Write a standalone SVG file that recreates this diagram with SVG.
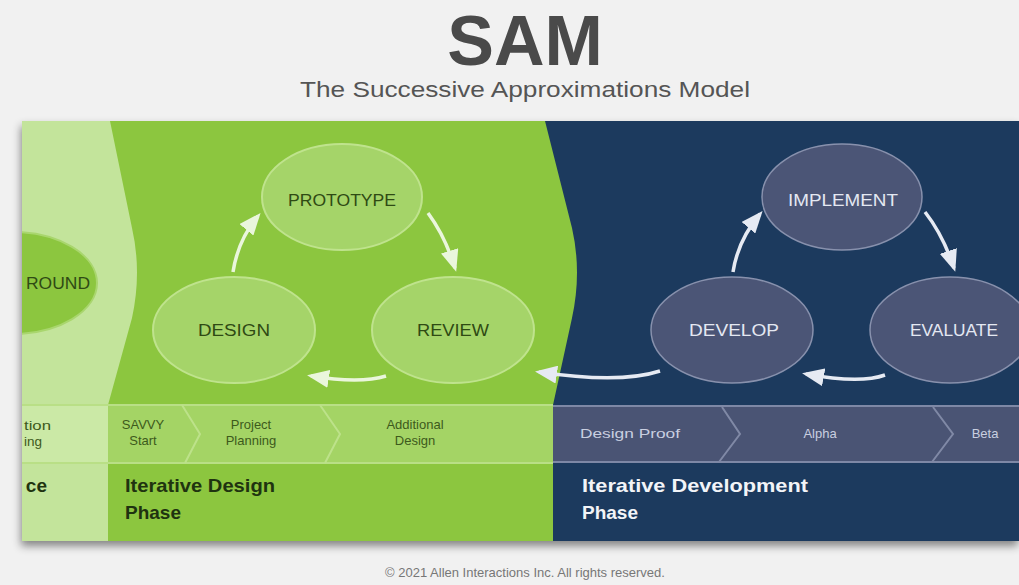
<svg xmlns="http://www.w3.org/2000/svg" width="1019" height="585" viewBox="0 0 1019 585">
  <defs>
    <style>
      .title{font-family:"Liberation Sans",Arial,sans-serif;font-weight:bold;fill:#4a4a4a}
      .sub{font-family:"Liberation Sans",Arial,sans-serif;fill:#555}
      .gnode{fill:#a5d469;stroke:#bfe38d;stroke-width:2}
      .nnode{fill:#4b5576;stroke:#8891ad;stroke-width:1.5}
      .gtxt{font-family:"Liberation Sans",Arial,sans-serif;font-size:16px;fill:#2f4a14;text-anchor:middle}
      .ntxt{font-family:"Liberation Sans",Arial,sans-serif;font-size:16px;fill:#e4e8f2;text-anchor:middle}
      .step{font-family:"Liberation Sans",Arial,sans-serif;font-size:13px;fill:#3d5a1c;text-anchor:middle}
      .nstep{font-family:"Liberation Sans",Arial,sans-serif;font-size:13px;fill:#c9cfe0}
      .phase{font-family:"Liberation Sans",Arial,sans-serif;font-size:19px;font-weight:bold}
      .garrow{fill:none;stroke:#eaf6dc;stroke-width:3.5}
      .narrow{fill:none;stroke:#e6eaf3;stroke-width:3.5}
      .chev{fill:none;stroke:#bde28a;stroke-width:2}
      .nchev{fill:none;stroke:#8089a6;stroke-width:2}
      .copy{font-family:"Liberation Sans",Arial,sans-serif;font-size:13px;fill:#777;text-anchor:middle}
    </style>
    <marker id="gh" markerUnits="userSpaceOnUse" markerWidth="22" markerHeight="18" refX="18" refY="9" orient="auto">
      <path d="M0,0 L22,9 L0,18 Z" fill="#eaf6dc"/>
    </marker>
    <marker id="nh" markerUnits="userSpaceOnUse" markerWidth="22" markerHeight="18" refX="18" refY="9" orient="auto">
      <path d="M0,0 L22,9 L0,18 Z" fill="#e6eaf3"/>
    </marker>
    <clipPath id="panel">
      <rect x="22" y="121" width="997" height="420"/>
    </clipPath>
    <filter id="sh" x="-5%" y="-5%" width="110%" height="115%">
      <feDropShadow dx="-1" dy="5" stdDeviation="4" flood-color="#000" flood-opacity="0.45"/>
    </filter>
  </defs>

  <rect width="1019" height="585" fill="#f1f1f1"/>

  <text class="title" x="525" y="65" font-size="70" text-anchor="middle">SAM</text>
  <text class="sub" x="300" y="97" font-size="22" textLength="450" lengthAdjust="spacingAndGlyphs">The Successive Approximations Model</text>

  <rect x="22" y="121" width="997" height="420" fill="#8cc63f" filter="url(#sh)"/>

  <g clip-path="url(#panel)">
    <!-- light strip -->
    <rect x="22" y="121" width="200" height="420" fill="#c3e49b"/>
    <!-- middle green -->
    <path d="M110,121 L132,228 Q142,272 132,318 L108,405 L108,541 L553,541 L553,405 L572,318 Q582,272 572,228 L545,121 Z" fill="#8cc63f"/>
    <!-- navy -->
    <path d="M545,121 L572,228 Q582,272 572,318 L553,405 L553,541 L1019,541 L1019,121 Z" fill="#1c3a5e"/>

    <!-- step bands -->
    <rect x="22" y="405" width="86" height="58" fill="#cbe9a6"/>
    <rect x="108" y="405" width="445" height="58" fill="#a4d465"/>
    <rect x="553" y="405" width="466" height="58" fill="#4a5474"/>
    <line x1="22" y1="405" x2="553" y2="405" stroke="#b9df86" stroke-width="2"/>
    <line x1="22" y1="463" x2="553" y2="463" stroke="#b9df86" stroke-width="2"/>
    <line x1="553" y1="406" x2="1019" y2="406" stroke="#7e88a6" stroke-width="2"/>
    <line x1="553" y1="462" x2="1019" y2="462" stroke="#7e88a6" stroke-width="2"/>
    <path class="chev" d="M182,405 L200,434 L185,463"/>
    <path class="chev" d="M320,405 L340,434 L325,463"/>
    <path class="nchev" d="M722,407 L740,434 L719,462"/>
    <path class="nchev" d="M933,407 L953,434 L932,462"/>

    <!-- Preparation (cut off at the left edge) -->
    <g id="background">
      <ellipse cx="12" cy="283" rx="85" ry="51" fill="#8cc63f" stroke="#a9d66e" stroke-width="2"/>
      <text class="gtxt" x="90" y="289" style="text-anchor:end" textLength="64" lengthAdjust="spacingAndGlyphs">ROUND</text>
    </g>
    <text class="step" x="51" y="430" style="text-anchor:end" textLength="27" lengthAdjust="spacingAndGlyphs">tion</text>
    <text class="step" x="42" y="446" style="text-anchor:end" textLength="18" lengthAdjust="spacingAndGlyphs">ing</text>
    <text class="phase" x="47" y="492" fill="#1f3310" text-anchor="end">ce</text>

    <!-- green steps -->
    <text class="step" x="143" y="429">SAVVY</text>
    <text class="step" x="143" y="445">Start</text>
    <text class="step" x="251" y="429">Project</text>
    <text class="step" x="251" y="445">Planning</text>
    <text class="step" x="415" y="429">Additional</text>
    <text class="step" x="415" y="445">Design</text>

    <!-- navy steps -->
    <text class="nstep" x="580" y="438" textLength="100" lengthAdjust="spacingAndGlyphs">Design Proof</text>
    <text class="nstep" x="820" y="438" text-anchor="middle">Alpha</text>
    <text class="nstep" x="985" y="438" text-anchor="middle">Beta</text>

    <!-- phase labels -->
    <text class="phase" x="125" y="492" fill="#1f3310" textLength="150" lengthAdjust="spacingAndGlyphs">Iterative Design</text>
    <text class="phase" x="125" y="519" fill="#1f3310">Phase</text>
    <text class="phase" x="582" y="492" fill="#f2f4f8" textLength="226" lengthAdjust="spacingAndGlyphs">Iterative Development</text>
    <text class="phase" x="582" y="519" fill="#f2f4f8">Phase</text>

    <!-- nodes -->
    <g id="prototype">
      <ellipse class="gnode" cx="342" cy="197" rx="80" ry="53"/>
      <text class="gtxt" x="342" y="206" textLength="108" lengthAdjust="spacingAndGlyphs">PROTOTYPE</text>
    </g>
    <g id="design">
      <ellipse class="gnode" cx="234" cy="330" rx="81" ry="53"/>
      <text class="gtxt" x="234" y="336" textLength="72" lengthAdjust="spacingAndGlyphs">DESIGN</text>
    </g>
    <g id="review">
      <ellipse class="gnode" cx="453" cy="330" rx="81" ry="53"/>
      <text class="gtxt" x="453" y="336" textLength="72" lengthAdjust="spacingAndGlyphs">REVIEW</text>
    </g>
    <g id="implement">
      <ellipse class="nnode" cx="842" cy="197" rx="80" ry="53"/>
      <text class="ntxt" x="843" y="206" textLength="110" lengthAdjust="spacingAndGlyphs">IMPLEMENT</text>
    </g>
    <g id="develop">
      <ellipse class="nnode" cx="732" cy="330" rx="81" ry="53"/>
      <text class="ntxt" x="734" y="336" textLength="90" lengthAdjust="spacingAndGlyphs">DEVELOP</text>
    </g>
    <g id="evaluate">
      <ellipse class="nnode" cx="950" cy="330" rx="80" ry="53"/>
      <text class="ntxt" x="954" y="336" textLength="88" lengthAdjust="spacingAndGlyphs">EVALUATE</text>
    </g>

    <!-- connectors -->
    <g id="connectors">
      <path class="garrow" d="M233,272 Q238,240 258,216" marker-end="url(#gh)"/>
      <path class="garrow" d="M428,213 Q445,236 455,268" marker-end="url(#gh)"/>
      <path class="garrow" d="M386,376 Q360,384 311,376" marker-end="url(#gh)"/>
      <path class="narrow" d="M660,371 Q620,384 539,372" marker-end="url(#nh)"/>
      <path class="narrow" d="M733,272 Q738,240 760,214" marker-end="url(#nh)"/>
      <path class="narrow" d="M925,212 Q943,235 954,268" marker-end="url(#nh)"/>
      <path class="narrow" d="M885,375 Q860,384 806,374" marker-end="url(#nh)"/>
    </g>
  </g>

  <text class="copy" x="525" y="577">© 2021 Allen Interactions Inc. All rights reserved.</text>
</svg>
